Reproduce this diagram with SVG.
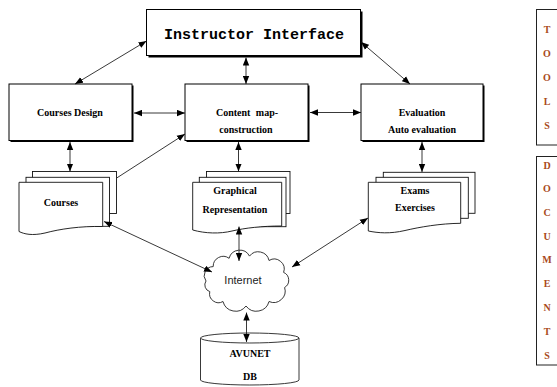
<svg xmlns="http://www.w3.org/2000/svg" width="557" height="387" viewBox="0 0 557 387">
<style>
.box{fill:#fff;stroke:#000;stroke-width:1}
.shadow{fill:#000}
.page{fill:#fff;stroke:#111;stroke-width:0.9}
.t{font-family:"Liberation Serif","Times New Roman",serif;font-weight:bold;font-size:10px;fill:#000;text-anchor:middle}
.mono{font-family:"Liberation Mono","Courier New",monospace;font-weight:bold;font-size:15px;fill:#000;text-anchor:middle}
.sans{font-family:"Liberation Sans",Arial,sans-serif;font-size:11px;fill:#222;text-anchor:middle}
.side{font-family:"Liberation Serif","Times New Roman",serif;font-weight:bold;font-size:10px;fill:#a94a20;text-anchor:middle}
.c{fill:none;stroke:#222;stroke-width:0.9}
.d{marker-start:url(#ah);marker-end:url(#ah)}
.s{marker-end:url(#ah)}
</style>
<defs>
<marker id="ah" viewBox="0 0 10 8" refX="10" refY="4" markerWidth="8" markerHeight="7" markerUnits="userSpaceOnUse" orient="auto-start-reverse">
<path d="M0,0 L10,4 L0,8 z" fill="#000"/>
</marker>
</defs>

<g id="instructor">
<rect class="shadow" x="148.5" y="11.5" width="214" height="46"/>
<rect class="box" x="146.5" y="9.5" width="214" height="46"/>
<text class="mono" x="254" y="39">Instructor Interface</text>
</g>

<g id="courses-design">
<rect class="shadow" x="10.5" y="85.5" width="123" height="56.5"/>
<rect class="box" x="9" y="84" width="123" height="56.5"/>
<text class="t" x="70" y="115.5">Courses Design</text>
</g>

<g id="content-map">
<rect class="shadow" x="186.5" y="85.5" width="123" height="56.5"/>
<rect class="box" x="185" y="84" width="123" height="56.5"/>
<text class="t" x="247" y="115.5">Content <tspan dx="3">map-</tspan></text>
<text class="t" x="246" y="132.5">construction</text>
</g>

<g id="evaluation">
<rect class="shadow" x="362.5" y="85.5" width="122" height="56.5"/>
<rect class="box" x="361" y="84" width="122" height="56.5"/>
<text class="t" x="422" y="115.5">Evaluation</text>
<text class="t" x="422" y="132.5">Auto evaluation</text>
</g>

<g id="courses">
<rect class="page" x="32.5" y="171.5" width="84" height="42"/>
<rect class="page" x="26" y="177.3" width="83.5" height="49"/>
<path class="page" d="M19,182.3 H102.7 V226.5 C80,226 60,229 45,233 C32,236 24,234 19,231.5 Z"/>
<text class="t" x="61" y="206">Courses</text>
</g>

<g id="graphical">
<rect class="page" x="206.5" y="171.5" width="83.5" height="42"/>
<rect class="page" x="199.3" y="177.3" width="86.7" height="49.4"/>
<path class="page" d="M192.7,182.3 H281.7 V226 C262,226 245,228 232,231 C220,234 205,233.5 192.7,230 Z"/>
<text class="t" x="235" y="193.5">Graphical</text>
<text class="t" x="235" y="212.5">Representation</text>
</g>

<g id="exams">
<rect class="page" x="383.3" y="172.3" width="91.7" height="41"/>
<rect class="page" x="376" y="177.3" width="92.3" height="41"/>
<path class="page" d="M368.3,182.3 H460.7 V223.3 C440,223.5 420,227 405,230.5 C390,234 378,233 368.3,231 Z"/>
<text class="t" x="415" y="193.5">Exams</text>
<text class="t" x="415" y="211">Exercises</text>
</g>

<g id="internet">
<path fill="#fff" stroke="#222" stroke-width="0.9" d="M206,281 A9,9 0 0 1 213.2,266.6 A10,10 0 0 1 229.1,258.3 A11,11 0 0 1 249.5,256.1 A11,11 0 0 1 269,260.5 A10,10 0 0 1 283.6,272.4 A8.5,8.5 0 0 1 284.6,287.5 A11.5,11.5 0 0 1 269,301.5 A13,13 0 0 1 246,306 A13,13 0 0 1 223,301.5 A9,9 0 0 1 209.8,291.6 A7,7 0 0 1 206,281 Z"/>
<text class="sans" x="243" y="284">Internet</text>
</g>

<g id="avunet-db">
<path fill="#fff" stroke="#222" stroke-width="0.9" d="M200.5,338 V380 A49.25,5 0 0 0 299,380 V338"/>
<ellipse cx="249.75" cy="338" rx="49.25" ry="5" fill="#fff" stroke="#222" stroke-width="0.9"/>
<text class="t" x="250" y="357">AVUNET</text>
<text class="t" x="250" y="379.5">DB</text>
</g>

<g id="tools">
<rect x="536.5" y="9.5" width="24" height="135.5" fill="none" stroke="#222" stroke-width="1"/>
<text class="side" x="547" y="33">T</text>
<text class="side" x="547" y="57">O</text>
<text class="side" x="547" y="80.5">O</text>
<text class="side" x="547" y="104.5">L</text>
<text class="side" x="547" y="129">S</text>
</g>

<g id="documents">
<rect x="536.5" y="156.5" width="24" height="208.5" fill="none" stroke="#222" stroke-width="1"/>
<text class="side" x="547" y="168.5">D</text>
<text class="side" x="547" y="192">O</text>
<text class="side" x="547" y="216">C</text>
<text class="side" x="547" y="239.5">U</text>
<text class="side" x="547" y="263">M</text>
<text class="side" x="547" y="287">E</text>
<text class="side" x="547" y="310.5">N</text>
<text class="side" x="547" y="334.5">T</text>
<text class="side" x="547" y="358.5">S</text>
</g>

<g id="connectors">
<line class="c d" x1="146.5" y1="41" x2="75" y2="84"/>
<line class="c d" x1="246" y1="57.5" x2="246" y2="84"/>
<line class="c d" x1="361" y1="42" x2="410" y2="84"/>
<line class="c d" x1="134" y1="113" x2="185" y2="113"/>
<line class="c d" x1="310" y1="112.5" x2="361" y2="112.5"/>
<line class="c d" x1="70" y1="142" x2="70" y2="171.5"/>
<line class="c d" x1="238.5" y1="142" x2="238.5" y2="171.5"/>
<line class="c d" x1="422" y1="142" x2="422" y2="172"/>
<line class="c s" x1="116.7" y1="178" x2="185" y2="134"/>
<line class="c d" x1="104" y1="221.5" x2="212" y2="272"/>
<line class="c d" x1="239" y1="226.5" x2="239" y2="261"/>
<line class="c d" x1="368" y1="218" x2="292" y2="267"/>
<line class="c d" x1="246.5" y1="312.5" x2="246.5" y2="342"/>
</g>
</svg>
